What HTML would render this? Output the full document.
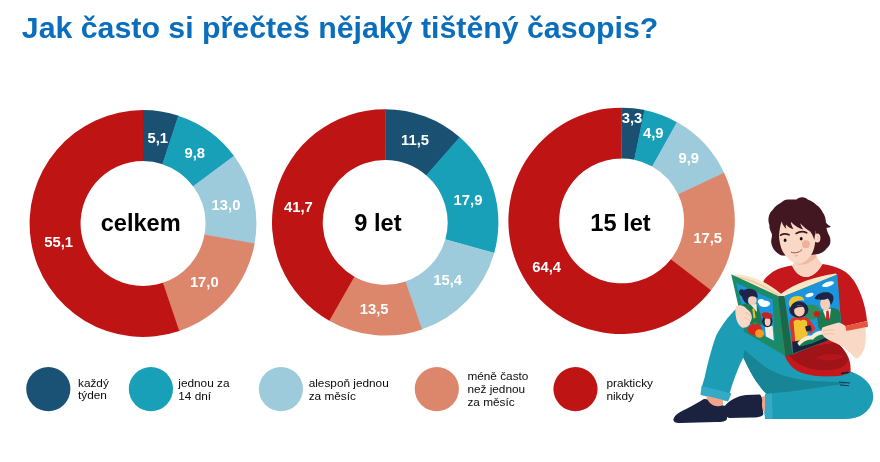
<!DOCTYPE html>
<html lang="cs">
<head>
<meta charset="utf-8">
<title>Jak často si přečteš nějaký tištěný časopis?</title>
<style>
html,body{margin:0;padding:0;background:#fff;}
body{width:880px;height:462px;overflow:hidden;font-family:"Liberation Sans",sans-serif;}
svg{display:block;}
.title{font:bold 30.3px "Liberation Sans",sans-serif;fill:#0a6ebd;}
.ctr{font:bold 23.6px "Liberation Sans",sans-serif;fill:#000;}
.val{font:bold 14.8px "Liberation Sans",sans-serif;fill:#fff;}
.leg{font:11.8px "Liberation Sans",sans-serif;fill:#0a0a0a;}
</style>
</head>
<body>
<svg width="880" height="462" viewBox="0 0 880 462">
<rect width="880" height="462" fill="#fff"/>
<text class="title" x="21.8" y="38.3">Jak často si přečteš nějaký tištěný časopis?</text>
<g id="donuts">
<path fill="#1a5173" d="M143.00 110.10A113.4 113.4 0 0 1 178.72 115.87L162.67 164.23A62.45 62.45 0 0 0 143.00 161.05Z"/>
<path fill="#18a0b8" d="M178.16 115.69A113.4 113.4 0 0 1 234.32 156.27L193.29 186.48A62.45 62.45 0 0 0 162.36 164.13Z"/>
<path fill="#9ecbdb" d="M233.97 155.79A113.4 113.4 0 0 1 254.52 244.05L204.42 234.82A62.45 62.45 0 0 0 193.10 186.21Z"/>
<path fill="#dc866b" d="M254.63 243.46A113.4 113.4 0 0 1 178.72 331.13L162.67 282.77A62.45 62.45 0 0 0 204.47 234.49Z"/>
<path fill="#be1414" d="M179.28 330.94A113.4 113.4 0 1 1 143.24 110.10L143.13 161.05A62.45 62.45 0 1 0 162.98 282.67Z"/>
<path fill="#1a5173" d="M385.20 109.20A113.2 113.2 0 0 1 460.06 137.49L426.50 175.56A62.45 62.45 0 0 0 385.20 159.95Z"/>
<path fill="#18a0b8" d="M459.61 137.10A113.2 113.2 0 0 1 494.10 253.30L445.28 239.45A62.45 62.45 0 0 0 426.25 175.34Z"/>
<path fill="#9ecbdb" d="M494.26 252.73A113.2 113.2 0 0 1 421.53 329.61L405.24 281.55A62.45 62.45 0 0 0 445.37 239.13Z"/>
<path fill="#dc866b" d="M422.09 329.42A113.2 113.2 0 0 1 328.81 320.55L354.09 276.55A62.45 62.45 0 0 0 405.55 281.44Z"/>
<path fill="#be1414" d="M329.32 320.85A113.2 113.2 0 0 1 385.44 109.20L385.33 159.95A62.45 62.45 0 0 0 354.37 276.71Z"/>
<path fill="#1a5173" d="M621.60 107.70A113.2 113.2 0 0 1 644.90 110.12L634.46 159.79A62.45 62.45 0 0 0 621.60 158.45Z"/>
<path fill="#18a0b8" d="M644.32 110.00A113.2 113.2 0 0 1 677.38 122.40L652.37 166.56A62.45 62.45 0 0 0 634.14 159.72Z"/>
<path fill="#9ecbdb" d="M676.86 122.10A113.2 113.2 0 0 1 724.33 173.35L678.27 194.67A62.45 62.45 0 0 0 652.09 166.40Z"/>
<path fill="#dc866b" d="M724.08 172.81A113.2 113.2 0 0 1 710.61 290.84L670.70 259.49A62.45 62.45 0 0 0 678.13 194.37Z"/>
<path fill="#be1414" d="M710.97 290.37A113.2 113.2 0 1 1 621.84 107.70L621.73 158.45A62.45 62.45 0 1 0 670.91 259.23Z"/>
</g>
<g id="centers" text-anchor="middle">
<text class="ctr" x="140.7" y="231">celkem</text>
<text class="ctr" x="377.9" y="231.2">9 let</text>
<text class="ctr" x="620.5" y="231.2">15 let</text>
</g>
<g id="values">
<text class="val" text-anchor="middle" x="157.75" y="142.6">5,1</text>
<text class="val" text-anchor="middle" x="194.75" y="157.6">9,8</text>
<text class="val" text-anchor="middle" x="226" y="209.5">13,0</text>
<text class="val" text-anchor="middle" x="204.3" y="286.5">17,0</text>
<text class="val" text-anchor="middle" x="58.7" y="246.75">55,1</text>
<text class="val" text-anchor="middle" x="415" y="145.2">11,5</text>
<text class="val" text-anchor="middle" x="468" y="205.2">17,9</text>
<text class="val" text-anchor="middle" x="447.6" y="285.1">15,4</text>
<text class="val" text-anchor="middle" x="374.2" y="313.5">13,5</text>
<text class="val" text-anchor="middle" x="298.4" y="212.3">41,7</text>
<text class="val" text-anchor="middle" x="632" y="122.9">3,3</text>
<text class="val" text-anchor="middle" x="653.3" y="137.7">4,9</text>
<text class="val" text-anchor="middle" x="688.7" y="163.1">9,9</text>
<text class="val" text-anchor="middle" x="707.7" y="242.9">17,5</text>
<text class="val" text-anchor="middle" x="546.7" y="272.4">64,4</text>
</g>
<g id="legend">
<circle cx="48.3" cy="389.05" r="22.1" fill="#1a5275"/>
<text class="leg" x="78" y="386.5">každý</text>
<text class="leg" x="78" y="399.4">týden</text>
<circle cx="150.9" cy="389.05" r="22.1" fill="#18a0b8"/>
<text class="leg" x="178.3" y="386.8">jednou za</text>
<text class="leg" x="178.3" y="399.7">14 dní</text>
<circle cx="280.9" cy="389.1" r="22.1" fill="#9ecbdb"/>
<text class="leg" x="308.7" y="386.6">alespoň jednou</text>
<text class="leg" x="308.7" y="399.5">za měsíc</text>
<circle cx="436.8" cy="389.05" r="22.1" fill="#dc866b"/>
<text class="leg" x="467.4" y="379.5">méně často</text>
<text class="leg" x="467.4" y="392.6">než jednou</text>
<text class="leg" x="467.4" y="405.6">za měsíc</text>
<circle cx="575.5" cy="389.1" r="22.1" fill="#be1414"/>
<text class="leg" x="606.4" y="387.1">prakticky</text>
<text class="leg" x="606.4" y="399.7">nikdy</text>
</g>
<g id="illustration">
<!-- legs: jeans -->
<path fill="#1d9cb5" d="M737 308 C728 316 720 328 716 336 C711 350 707 366 705 376 L701.8 387 L729.5 393.8 C733 381 738 368 743.3 357.4 C747 365 752 376 759.3 385.6 C761 388 763 391 766 393.5 L765 419 L845 419 C860 419 870 412 873 400 C875 388 866 377 852 372 L800 356 L760 318 Z"/>
<!-- shadow under thigh -->
<path fill="#178595" d="M743.3 357.4 L744.6 349.6 C750 355 754 358 759.3 362.3 C764 366 768 369 772.9 371 C777 373.5 781 375 784.6 375.9 C795 379 808 381 820 381.3 L846 382.5 L846 384 C835 385 822 387 810 388.8 C795 391 780 393 766 393.5 C763 390 761 388 759.3 385.6 C755 380 752 375 749.5 370 C747 365 745 361 743.3 357.4 Z"/>
<path fill="#123a52" d="M839 381.5 L850 382.5 L850 383.6 L839 382.6 Z M840 384.5 L849 385.3 L849 386.3 L840 385.5 Z"/>
<!-- cuffs -->
<path fill="#35aac4" d="M701.5 386 L731.5 393.5 L728 401.5 L700.5 395 Z"/>
<path fill="#35aac4" d="M765 394 L772 393.5 L772.5 419 L765 418.5 C763.5 410 763.5 402 765 394 Z"/>
<!-- ankles -->
<path fill="#f0a58a" d="M707 396 L723 400 L723 408 L706 404 Z"/>
<path fill="#f0a58a" d="M758 398 L765 396 L765 411 L759 411 Z"/>
<!-- shoes -->
<path fill="#1b2240" d="M723.5 408 C728 400 738 396 746 395 L760 394.5 C763 398 762 402 762 405 C762 409 764 412 763 415 C761 417 757 417.5 752 417.5 L729 418 C725 416 723 412 723.5 408 Z"/>
<path fill="#1b2240" d="M673.5 419 C675 414 682 411 688 408 C694 405 699 402 703 399.5 C706 398.5 708 399.5 709 402 C712 406 718 407 722 405.5 C725 405 727.5 407 727.5 410 L727 419 C726 421.5 722 422 716 422 L680 423 C675 423 673 421.5 673.5 419 Z"/>
<!-- t-shirt -->
<path fill="#c4181c" d="M792 265.5 C786 266.5 781 267.5 777 269.5 C771 272.5 767 276 764 280 L758 296 L785 356 C788 364 794 370 802 373 C814 377 830 377 842 375.5 L850.5 372.5 C851 366 850 360 847 354.6 C844 349 840 345 836.7 342.5 L846 326 L867 321 C866 308 862 296 858 288 C855 281 850 275 844 271 C838 267.5 830 265 822.5 264 C818 272 812 277 806 277 C800 277 795 272 792 265.5 Z"/>
<path fill="#a01318" d="M789 355 C800 349.5 815 345.5 836.5 342.6 C841 346 846 352 848 360 C846.5 366 840 369.2 830 370 C820 371 808 369 800 364.5 C795 361.5 791.5 358.5 789 355 Z"/>
<path fill="#b5161b" d="M816 357.5 C824 353.2 836 353 844 356 C838 361 825 362.2 816 357.5 Z"/>
<path fill="#1b2240" d="M841 372.6 L848.4 371.4 L848.7 373.3 L841.3 374.5 Z"/>
<!-- neck -->
<path fill="#f9d4c0" d="M795 258 L814.5 250 C816 256 819 261 822.5 264 C818 272 812 277 806 277 C800 277 795 272 792 265.5 C794 263 795 261 795 258 Z"/>
<path fill="#f2b9a2" d="M795 258 L814.5 250 C815 253 815.5 255 816.5 257 C810 264 802 266 796 264 Z"/>
<!-- hair back -->
<path fill="#431722" d="M781.5 255.5 C776 253 772.5 249 771.3 243 C770.5 240 772.5 237 771.9 234 C770.5 231 769 228 769.4 225 C768.3 222 768.2 219 768.8 216.4 C769.5 213.5 770.8 211.5 772.6 210 C775 206.5 778 204.5 781.3 202.6 C782.5 201.3 783.8 200.4 785 200 C789 199 793 199.8 796.4 199.4 C798.5 198 800.5 197 802.7 197.3 C804.5 197.5 806.3 198.3 807.7 199.4 C811 200.5 814 202.5 816.5 205 C819.5 207 821.5 209.5 822.8 212.6 C825 215.5 825.8 219 825.9 222.6 C827.3 224.5 829 225.8 830.9 226.4 C829.5 227.5 828 227.9 826.5 227.7 C826.8 230 827.6 232 828.4 234 C830 236.5 830.8 239.5 830.3 242.7 C829.8 245 828.5 246.8 826.8 248.3 C824.5 251.5 821 253.5 817.2 254.2 L800 256 Z"/>
<!-- face -->
<path fill="#fad8c6" d="M778.8 226 C778.5 236 779.5 246 783 252 C787 258.5 793 263.8 798.8 263.8 C804 263.8 809.5 258.5 812.5 252.5 C814.5 248 815.3 243 815.5 238 L815.5 222 L780 220 Z"/>
<ellipse cx="817.3" cy="238" rx="3.1" ry="4.6" fill="#fad8c6"/>
<path d="M817 235.5 C818.5 236.5 818.6 239 817.3 240.3" fill="none" stroke="#eeb29c" stroke-width="0.8"/>
<!-- fringe -->
<path fill="#431722" d="M777 238 L777 214 C782 204 795 200 806 203 C816 206 822 214 822 224 L821 232 C819 230 817 229.5 815.5 231 L814.3 240 C813 236 812 233.5 810.2 231.4 C806.5 229.5 803 226.5 800.2 223.3 C801 226 802 228 803.5 229.5 C799 228.5 794.5 226 790.8 221.8 C791 224.5 792 227 793.5 229 C790.5 228.5 788 227 786 224.5 C785.5 226 785.8 227.5 786.5 229 C784.5 227.5 782.8 225 781.6 221.5 C780 226 779.2 232 778.9 238 Z"/>
<!-- features -->
<ellipse cx="785.1" cy="240.2" rx="1.35" ry="1.7" fill="#1a0c12"/>
<ellipse cx="801.2" cy="238.8" rx="1.45" ry="1.8" fill="#1a0c12"/>
<path d="M780.6 235.2 C783 233.6 786 233.5 789 234.8" fill="none" stroke="#431722" stroke-width="1.7" stroke-linecap="round"/>
<path d="M796.2 233.4 C799.5 231.3 803.5 231.2 806.6 232.8" fill="none" stroke="#431722" stroke-width="1.8" stroke-linecap="round"/>
<circle cx="805.9" cy="244.2" r="3.9" fill="#f0a68e" opacity="0.8"/>
<path d="M791.3 252.2 C794.5 253.6 799 252.8 801.8 249.8" fill="none" stroke="#b3414a" stroke-width="1" stroke-linecap="round"/>
<path d="M794.8 256 L797.6 255.7" fill="none" stroke="#e9a793" stroke-width="0.9" stroke-linecap="round"/>
<!-- book -->
<path fill="#f8e6c6" d="M735.5 274.4 C746 274 764 279.5 781 293.8 C795 283 815 276.5 835.8 273.4 L837.3 275 L784 298 L778 298 L733.5 276 Z"/>
<path fill="#e9cfa6" d="M736 276.2 C748 277.5 765 284.5 780.6 295.6 L780.2 297 C765 287 748 280 736.5 277.6 Z"/>
<path fill="#1c8a66" d="M731.2 274.2 L778.2 296.1 L785.6 356.1 L744.2 331.8 Z"/>
<path fill="#17694a" d="M778.2 296.1 L784.4 296 L792.4 354.6 L785.6 356.1 Z"/>
<path fill="#1c8a66" d="M784.4 296 L837.3 274.5 L842 335 L792.4 354.6 Z"/>
<!-- left picture -->
<g>
<path fill="#1b96dc" d="M736.1 282.8 L772.6 299.6 L774.6 341.2 L747.2 326.6 Z"/>
<ellipse cx="764.5" cy="303.8" rx="5.6" ry="3.2" fill="#fff"/>
<ellipse cx="761" cy="301.5" rx="3.2" ry="2.6" fill="#fff"/>
<path fill="#1c7a50" d="M739.8 306 C745 302.5 752 302.5 756.5 304 C760 310 762 318 762.5 325 L746 323.5 Z"/>
<path fill="#f4f0e6" d="M750.5 304.5 L756.5 304 L757 312 Z"/>
<path fill="#f1c02f" d="M752.3 308.8 L754.3 308.6 L755.6 317.8 L753.6 318.5 Z"/>
<ellipse cx="752.4" cy="300.4" rx="4.2" ry="5" fill="#f7cdb6"/>
<path fill="#1f2446" d="M739 291.5 C739.5 289 742.5 288.6 744 290.2 C746.5 288 752 288.2 755 290.6 C757.5 292.6 758 296 757.4 298.6 C755 296 751 295.6 748.6 297.6 C747.4 299 747.6 302 748.4 304 C745 303 742.5 300 742 296.4 C740 295.4 738.8 293.6 739 291.5 Z"/>
<ellipse cx="755" cy="329.5" rx="7.2" ry="6" fill="#d6261d"/>
<ellipse cx="759.5" cy="333.5" rx="4.4" ry="4.2" fill="#f39a23"/>
<path fill="#2b8a4e" d="M752 323 C754 321.5 757 321.8 758 323.5 L754.5 325 Z"/>
<path fill="#f4f0e6" d="M764.8 326.5 L772.6 326 L773.8 340.5 L766 336.5 Z"/>
<ellipse cx="767.3" cy="321.3" rx="5.2" ry="6" fill="#1f2446"/>
<ellipse cx="767.6" cy="321.8" rx="2.9" ry="4.2" fill="#f7cdb6"/>
<ellipse cx="767" cy="315.5" rx="5.6" ry="3" fill="#c8201f" transform="rotate(12 767 315.5)"/>
</g>
<!-- right picture -->
<g>
<path fill="#1b96dc" d="M784.6 296.2 L837.3 274.8 L841.8 334.6 L793 353.4 Z"/>
<ellipse cx="828" cy="284.2" rx="6.2" ry="2.3" fill="#fff" transform="rotate(-18 828 284.2)"/>
<ellipse cx="809.5" cy="295" rx="4.2" ry="1.9" fill="#fff" transform="rotate(-18 809.5 295)"/>
<ellipse cx="811.5" cy="312" rx="9" ry="7.5" fill="#2f8f5a"/>
<!-- boy right -->
<path fill="#1c7a50" d="M816.5 314 C820 310 828 307.8 833 308 C837 308.5 839.6 310.5 840 313 L841.6 332 L826 334 L818.5 328 Z"/>
<path fill="#f4f0e6" d="M822.8 310.5 L831 308.6 L829.8 318.5 L826 318.5 Z"/>
<path fill="#cf2027" d="M826.3 311 L828.6 310.6 L829.6 319.5 L827.6 321 L826 319.5 Z"/>
<ellipse cx="825.2" cy="304" rx="5" ry="6.4" fill="#f7cdb6" transform="rotate(-8 825.2 304)"/>
<path fill="#1f2446" d="M814.6 298.5 C816 294 822 291.5 827.5 292.3 C832 293 834 296 833.4 299.5 C832.6 302.5 831.5 304.5 830.6 305 C830.2 302 829.5 299.5 828 298.5 C825 300 821 300.2 818.5 299.2 C817.5 299.8 816 299.5 814.6 298.5 Z"/>
<circle cx="816.6" cy="314" r="3" fill="#c8201f"/>
<!-- girl -->
<path fill="#d8342c" d="M789.5 321 C791.5 317.5 796 316 800 316.5 C805 316 809 318.5 811 321.5 L815.5 328.5 L810.5 334 L807 330 L808 346 L793.2 352.4 Z"/>
<path fill="#f2c230" d="M793.5 321.5 C795.5 319.5 798.5 319 800.5 320.8 C802.5 319 805.5 319.5 807 321.5 L808 344 L796 349.5 Z"/>
<ellipse cx="798.8" cy="309.5" rx="9.6" ry="8.2" fill="#1f2446"/>
<ellipse cx="799.4" cy="310.8" rx="5.3" ry="5.7" fill="#f7cdb6"/>
<path fill="#1f2446" d="M793.5 307.5 C796 304.8 802 304.5 805.2 307 C802 306.6 797 306.8 793.5 309.5 Z"/>
<path fill="#f2c230" d="M788.8 304 C788.5 298.5 793.5 295.5 798.5 296 C802.5 296.4 804.5 298.5 804.2 300.5 C800 299.5 795.5 301 793 303.5 C791.5 305 790.8 306.5 790.5 307.5 C789.5 306.5 788.9 305.3 788.8 304 Z"/>
<rect x="805.6" y="325.6" width="5.6" height="5.4" rx="0.8" fill="#1b2240" transform="rotate(-14 808.4 328.3)"/>
<!-- bottom dark + inner book -->
<path fill="#1b2240" d="M792.2 341.5 C800 341 815 337 828.5 331.5 L829 340 L793 353.4 Z"/>
<path fill="#1c7a50" d="M798.5 343.5 C803 339 810 338.5 812 339.5 C815 335.5 821 332.5 825 332.8 L826 337.4 L812 343.6 L800.5 346.6 Z"/>
<path fill="#f4ecd8" d="M797.4 343 C801.5 337.6 807.5 335 811.5 335.6 C814.5 331.8 819 330.4 823 330.9 L824 334.4 C820 334.2 815.8 336 812.8 339.8 C808.5 338.8 803 341.2 799.2 346 Z"/>
</g>
<!-- left hand -->
<path fill="#fad8c6" d="M735.8 306.2 C739.5 304.2 744.5 305.6 746.8 309 C749.6 310.8 751.6 313.6 751.8 316.6 C752 319.2 751 321 750.2 322.6 C749.6 325.8 746 328.6 742 327.4 C738.6 325.6 736.4 321 735.8 316 C735.2 312.6 735.2 309 735.8 306.2 Z"/>
<path d="M745 312.5 C747.5 313.2 749.5 314.4 751 316.2 M744.4 317.6 C746.6 318.2 748.6 319.4 750.2 321.4" fill="none" stroke="#eeb29c" stroke-width="0.7"/>
<!-- right arm / hand -->
<path fill="#fad8c6" d="M822.5 327.6 C828 325.4 834 323.4 839 322.4 C841.5 323.2 843.5 324.6 845.5 326 L865.4 327 C866.2 334 866 342 864.8 347 C863 353 860 357.5 856 358.6 C852 355 848 351 844 347.5 C839 344.5 833 342 828 339.5 C824.5 337.5 822 335 821.6 332 C821.4 330 821.8 328.4 822.5 327.6 Z"/>
<path d="M823 331.2 C827 330 831 329.6 835 330 M823.4 334.6 C827 333.6 831 333.4 834.6 334" fill="none" stroke="#eeb29c" stroke-width="0.7"/>
<path fill="#e4573c" d="M845.4 325.9 L867.5 321 L868 326.8 L846.3 331 Z"/>

</g>
</svg>
</body>
</html>
